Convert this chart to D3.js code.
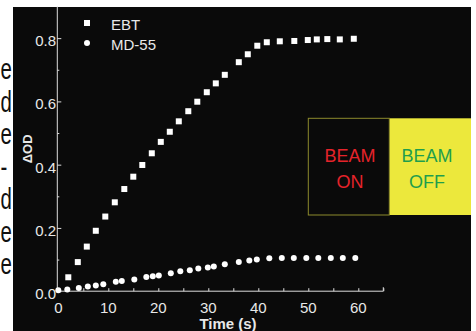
<!DOCTYPE html>
<html>
<head>
<meta charset="utf-8">
<script src="https://cdn.jsdelivr.net/npm/d3@7"></script>
<style>
  body { margin: 0; background: #fff; }
  svg { display: block; font-family: "Liberation Sans", Arial, sans-serif; }
</style>
</head>
<body>
<div id="chart"></div>
<script>
// data
const ebtTime = [2.0, 3.9, 5.7, 7.5, 9.4, 11.3, 13.2, 15.0, 16.8, 18.7, 20.5, 22.3, 24.1, 26.0, 27.8,
  29.7, 31.5, 33.3, 36.1, 37.9, 39.8, 41.7, 44.3, 47.2, 49.9, 51.7, 53.8, 56.3, 59.1]
const ebtOD = [0.044, 0.092, 0.141, 0.191, 0.236, 0.281, 0.323, 0.362, 0.399, 0.436, 0.472, 0.504, 0.537, 0.569, 0.599,
  0.629, 0.657, 0.684, 0.724, 0.749, 0.776, 0.787, 0.790, 0.791, 0.794, 0.796, 0.797, 0.796, 0.798]

const mdTime = [0, 1.8, 4.1, 5.9, 7.5, 9.0, 11.5, 12.7, 15.2, 17.6, 18.9, 20.1, 22.5, 24.4, 26.3, 28.0,
  29.9, 31.1, 33.3, 36.1, 38.2, 39.7, 42.2, 44.7, 47.1, 49.6, 52.0, 54.5, 56.9, 59.4]
const mdOD = [0.003, 0.005, 0.010, 0.015, 0.018, 0.022, 0.030, 0.032, 0.037, 0.045, 0.047, 0.050, 0.057, 0.063, 0.066, 0.072,
  0.075, 0.078, 0.085, 0.092, 0.097, 0.100, 0.104, 0.105, 0.105, 0.105, 0.105, 0.105, 0.105, 0.105]

const xTicks = [0, 10, 20, 30, 40, 50, 60]
const yTicks = [0.0, 0.2, 0.4, 0.6, 0.8]
const seriesNames = ["EBT", "MD-55"]
const sideLetters = ["e", "d", "e", "-", "d", "e", "e"]

const width = 476
const height = 331

const svg = d3.select("#chart")
    .append("svg")
    .attr("width", width)
    .attr("height", height)

// letters left over from the page the figure was cropped from
svg.append("g")
    .selectAll("text")
    .data(sideLetters)
    .enter()
    .append("text")
    .attr("transform", (d, i) => "translate(0.5," + (79 + i * 32.5) + ") scale(0.85,1.25)")
    .attr("font-size", 24)
    .attr("fill", "#111")
    .text(d => d)

svg.append("rect")
    .attr("x", 13).attr("y", 7)
    .attr("width", 458).attr("height", 324)
    .attr("fill", "#0a0a0a")

const x = d3.scaleLinear().domain([0, 65]).range([58.3, 383.3])
const y = d3.scaleLinear().domain([0, 0.9]).range([291.2, 6.5])

// axes, ticks point inward
const xAxis = svg.append("g")
    .attr("transform", "translate(0," + y(0) + ")")
    .call(d3.axisTop(x).tickValues(d3.range(0, 66, 5)).tickSize(3).tickFormat(""))
xAxis.selectAll("line, path").attr("stroke", "#ddd")
xAxis.select("path").attr("d", "M" + (x(0) - 1) + ",0H" + x(65) + "V-4")

svg.append("g")
    .selectAll("text")
    .data(xTicks)
    .enter()
    .append("text")
    .attr("x", d => x(d))
    .attr("y", 313)
    .attr("text-anchor", "middle")
    .attr("font-size", 15)
    .attr("fill", "#e8e8e8")
    .text(d => d)

const yAxis = svg.append("g")
    .attr("transform", "translate(" + (x(0) - 1) + ",0)")
    .call(d3.axisRight(y).tickValues(d3.range(0, 0.85, 0.1)).tickSize(4).tickFormat(""))
yAxis.selectAll("line, path").attr("stroke", "#ddd")
yAxis.select("path").attr("d", "M0," + y(0) + "V" + y(0.9))
yAxis.selectAll(".tick line").attr("x2", (d, i) => i % 2 === 0 ? 4 : 2)

svg.append("g")
    .selectAll("text")
    .data(yTicks)
    .enter()
    .append("text")
    .attr("x", 56)
    .attr("y", d => y(d) + 8)
    .attr("text-anchor", "end")
    .attr("font-size", 15)
    .attr("fill", "#e8e8e8")
    .text(d => d.toFixed(1))

svg.append("text")
    .attr("x", 228)
    .attr("y", 329)
    .attr("text-anchor", "middle")
    .attr("font-size", 15)
    .attr("font-weight", "bold")
    .attr("fill", "#e8e8e8")
    .text("Time (s)")

svg.append("text")
    .attr("transform", "translate(32," + ((y(0) + y(0.9)) / 2) + ") rotate(-90)")
    .attr("text-anchor", "middle")
    .attr("font-size", 13)
    .attr("font-weight", "bold")
    .attr("fill", "#e8e8e8")
    .text("ΔOD")

// beam box
svg.append("rect")
    .attr("x", 389.3).attr("y", 118.3)
    .attr("width", 81.7).attr("height", 96.7)
    .attr("fill", "#ece83c")
svg.append("rect")
    .attr("x", 308.3).attr("y", 118.3)
    .attr("width", 81).attr("height", 96.7)
    .attr("fill", "none")
    .attr("stroke", "#8c8a2c")
    .attr("stroke-width", 1)

const beam = [
    { label: ["BEAM", "ON"], cx: 350, color: "#e5232a" },
    { label: ["BEAM", "OFF"], cx: 427, color: "#1f9e4c" }
]
beam.forEach(b => {
    svg.append("text")
        .attr("text-anchor", "middle")
        .attr("font-size", 18)
        .attr("fill", b.color)
        .selectAll("tspan")
        .data(b.label)
        .enter()
        .append("tspan")
        .attr("x", b.cx)
        .attr("y", (d, i) => 162 + i * 25.5)
        .text(d => d)
})

// markers
const ebt = ebtTime.map((t, i) => ({ t: t, v: ebtOD[i] }))
const md = mdTime.map((t, i) => ({ t: t, v: mdOD[i] }))

svg.append("g")
    .selectAll("rect")
    .data(ebt)
    .enter()
    .append("rect")
    .attr("x", d => x(d.t) - 3)
    .attr("y", d => y(d.v) - 3)
    .attr("width", 6)
    .attr("height", 6)
    .attr("fill", "#fff")

svg.append("g")
    .selectAll("circle")
    .data(md)
    .enter()
    .append("circle")
    .attr("cx", d => x(d.t))
    .attr("cy", d => y(d.v))
    .attr("r", 3)
    .attr("fill", "#fff")

// legend
const legend = svg.append("g")
legend.append("rect")
    .attr("x", 84).attr("y", 20)
    .attr("width", 6).attr("height", 6)
    .attr("fill", "#fff")
legend.append("circle")
    .attr("cx", 87).attr("cy", 43)
    .attr("r", 3)
    .attr("fill", "#fff")
legend.selectAll("text")
    .data(seriesNames)
    .enter()
    .append("text")
    .attr("x", 111)
    .attr("y", (d, i) => 30 + i * 20)
    .attr("font-size", 15)
    .attr("fill", "#e8e8e8")
    .text(d => d)
</script>
</body>
</html>
